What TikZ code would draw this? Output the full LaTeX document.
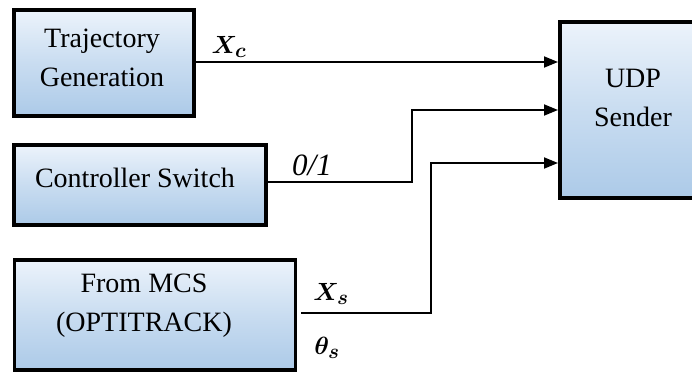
\documentclass[tikz,border=0pt]{standalone}
\usepackage{amsmath,bm}
\usepackage{fontspec}
\newfontfamily\tnr{Liberation Serif}
\usetikzlibrary{arrows.meta,calc}
\definecolor{boxtop}{RGB}{236,243,251}
\definecolor{boxbot}{RGB}{172,202,232}
\tikzset{
  blk/.style={draw=black, line width=3.6pt, top color=boxtop, bottom color=boxbot, middle color=boxbot!55!boxtop, rectangle, inner sep=0pt},
  lbl/.style={align=center, font=\tnr\fontsize{28}{39}\selectfont, text=black},
  conn/.style={line width=1.8pt},
  arr/.style={conn, -{Triangle[length=14pt,width=11pt]}},
  sig/.style={font=\tnr\fontsize{31}{34}\selectfont, inner sep=0pt}
}
\begin{document}
\begin{tikzpicture}[x=1pt,y=-1pt]
\useasboundingbox (0,0) rectangle (692,375);
% blocks
\node[blk, minimum width=180pt, minimum height=106pt] (traj) at (104,63) {};
\node[lbl] (trajtxt) at (102,58) {Trajectory\\Generation};
\node[blk, minimum width=252pt, minimum height=80pt] (sw) at (140,185) {};
\node[lbl] (swtxt) at (135,178) {Controller Switch};
\node[blk, minimum width=281pt, minimum height=110pt] (mcs) at (155,315) {};
\node[lbl] (mcstxt) at (144,306) {From MCS\\(OPTITRACK)};
\node[blk, minimum width=146pt, minimum height=176pt] (udp) at (633,110) {};
\node[lbl] (udptxt) at (633,98) {UDP\\Sender};
% inputs of UDP
\coordinate (in1) at (558,62);
\coordinate (in2) at (558,110);
\coordinate (in3) at (558,163);
% connectors
\draw[arr] (traj.east |- in1) -- (in1);
\draw[arr] (sw.east) ++(0,-3) -- (412,182) -- (412,110) -- (in2);
\draw[arr, shorten <=4pt] (mcs.east) ++(0,-2) -- (431,313) -- (431,163) -- (in3);
% signal labels
\node[sig] (xc) at (229,47) {$\boldsymbol{X_c}$};
\node[sig] (sw01) at (312,165) {\textit{0/1}};
\node[sig] (xs) at (331,294) {$\boldsymbol{X_s}$};
\node[sig] (th) at (327,348) {$\boldsymbol{\theta_s}$};
\end{tikzpicture}
\end{document}
